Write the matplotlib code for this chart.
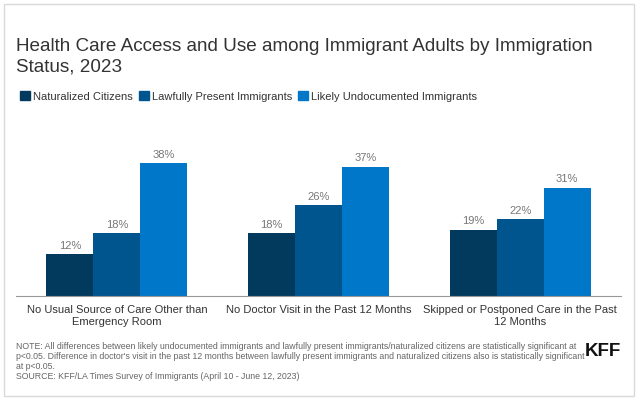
import matplotlib
matplotlib.use("Agg")
import matplotlib.pyplot as plt
from matplotlib.patches import Rectangle, Patch
import numpy as np

plt.rcParams['font.family'] = ['Liberation Sans', 'DejaVu Sans']

categories = ["No Usual Source of Care Other than\nEmergency Room",
              "No Doctor Visit in the Past 12 Months",
              "Skipped or Postponed Care in the Past\n12 Months"]
series = ["Naturalized Citizens", "Lawfully Present Immigrants",
          "Likely Undocumented Immigrants"]
naturalized = [12, 18, 19]
lawful = [18, 26, 22]
undocumented = [38, 37, 31]
colors = ["#023a5e", "#00558f", "#0077c8"]

fig = plt.figure(figsize=(6.38, 4.02), dpi=100)
fig.patches.append(Rectangle((4 / 638, 5 / 402), 630 / 638, 392 / 402,
                             transform=fig.transFigure, fill=False,
                             edgecolor="#d9d9d9", lw=1))

ax = fig.add_axes([16 / 638, 1 - 297 / 402, 605 / 638, 175 / 402])
x = np.arange(len(categories))
w = 0.233
for i, (vals, c) in enumerate(zip([naturalized, lawful, undocumented], colors)):
    bars = ax.bar(x + (i - 1) * w, vals, w, color=c, label=series[i])
    for b, v in zip(bars, vals):
        ax.text(b.get_x() + b.get_width() / 2, v + 1.2, f"{v}%",
                ha="center", va="bottom", fontsize=8, color="#777777")

ax.set_xlim(-0.5, 2.5)
ax.set_ylim(0, 50)
ax.set_yticks([])
ax.set_xticks(x)
ax.set_xticklabels(categories, fontsize=8, color="#333333")
ax.tick_params(axis="x", length=0, pad=6)
for s in ["top", "right", "left"]:
    ax.spines[s].set_visible(False)
ax.spines["bottom"].set_color("#999999")

fig.text(16 / 638, 1 - 56.5 / 402,
         "Health Care Access and Use among Immigrant Adults by Immigration\nStatus, 2023",
         fontsize=13.6, color="#333333", va="center", ha="left", linespacing=1.3)

handles = [Patch(color=c) for c in colors]
fig.legend(handles, series, loc="center left",
           bbox_to_anchor=(10 / 638, 1 - 97 / 402), ncol=3, frameon=False,
           fontsize=8, handlelength=0.9, handleheight=0.9, handletextpad=0.3,
           columnspacing=0.5, labelcolor="#333333")

note = ("NOTE: All differences between likely undocumented immigrants and lawfully present immigrants/naturalized citizens are statistically significant at\n"
        "p<0.05. Difference in doctor's visit in the past 12 months between lawfully present immigrants and naturalized citizens also is statistically significant\n"
        "at p<0.05.\n"
        "SOURCE: KFF/LA Times Survey of Immigrants (April 10 - June 12, 2023)")
fig.text(16 / 638, 1 - 342 / 402, note, fontsize=6.3, color="#666666",
         va="top", ha="left", linespacing=1.12)

fig.text(621 / 638, 1 - 352 / 402, "KFF", fontsize=13.5, fontweight="bold",
         color="#111111", ha="right", va="center")

fig.savefig("out.png", dpi=100)
